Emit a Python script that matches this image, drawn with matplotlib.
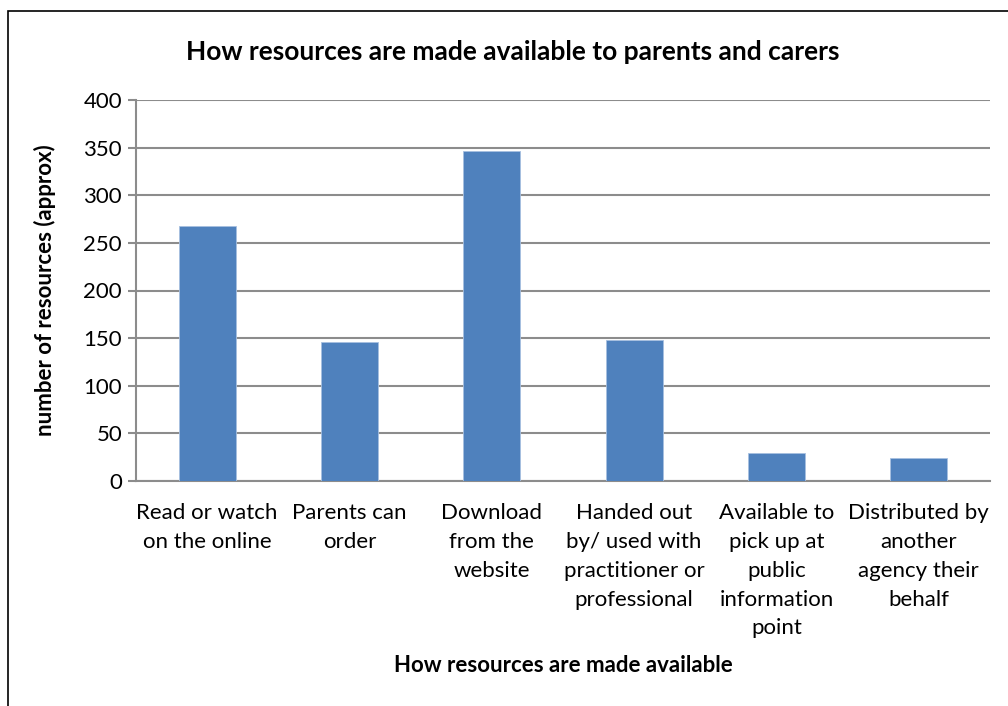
import matplotlib.pyplot as plt
from matplotlib.patches import Rectangle

plt.rcParams['font.family'] = ['Lato', 'DejaVu Sans']

categories = [
    "Read or watch\non the online",
    "Parents can\norder",
    "Download\nfrom the\nwebsite",
    "Handed out\nby/ used with\npractitioner or\nprofessional",
    "Available to\npick up at\npublic\ninformation\npoint",
    "Distributed by\nanother\nagency their\nbehalf",
]
counts = [268, 146, 346, 148, 29, 24]
y_ticks = [0, 50, 100, 150, 200, 250, 300, 350, 400]

grid_grey = "#8c8c8c"
bar_blue = "#4f81bd"

fig = plt.figure(figsize=(10.08, 7.06), dpi=100)
fig.patch.set_facecolor("white")

# chart frame (runs off the right and bottom edges)
fig.add_artist(Rectangle((8 / 1008, -0.05), 1.1, 1 - 11 / 706 + 0.05,
                         transform=fig.transFigure, fill=False,
                         edgecolor="black", linewidth=1.2))

ax = fig.add_axes([136 / 1008, 1 - 481 / 706, (990 - 136) / 1008, (481 - 100) / 706])
x = range(len(categories))
ax.bar(x, counts, width=0.4, color=bar_blue, edgecolor="#a7c0e0", linewidth=0.6, zorder=3)

ax.set_xlim(-0.5, len(categories) - 0.5)
ax.set_ylim(0, 400)
ax.set_yticks(y_ticks)
ax.set_yticklabels([str(v) for v in y_ticks], fontsize=16)
ax.set_xticks(list(x))
ax.set_xticklabels(categories, fontsize=16, linespacing=1.55, va="top")
ax.tick_params(axis="x", length=0, pad=16)
ax.tick_params(axis="y", length=6, width=1.5, color=grid_grey, pad=4)

ax.grid(axis="y", color=grid_grey, linewidth=1.5, zorder=0)
for side in ("top", "right"):
    ax.spines[side].set_visible(False)
ax.spines["left"].set_color(grid_grey)
ax.spines["left"].set_linewidth(1.5)
ax.spines["bottom"].set_color(grid_grey)
ax.spines["bottom"].set_linewidth(1.5)

fig.text(513 / 1008, 1 - 52 / 706, "How resources are made available to parents and carers",
         ha="center", va="center", fontsize=19, fontweight="bold")
fig.text(563 / 1008, 1 - 665 / 706, "How resources are made available",
         ha="center", va="center", fontsize=16, fontweight="bold")
fig.text(45 / 1008, 1 - 290 / 706, "number of resources (approx)",
         ha="center", va="center", rotation=90, fontsize=16, fontweight="bold")

fig.savefig("out.png", dpi=100, facecolor="white")
